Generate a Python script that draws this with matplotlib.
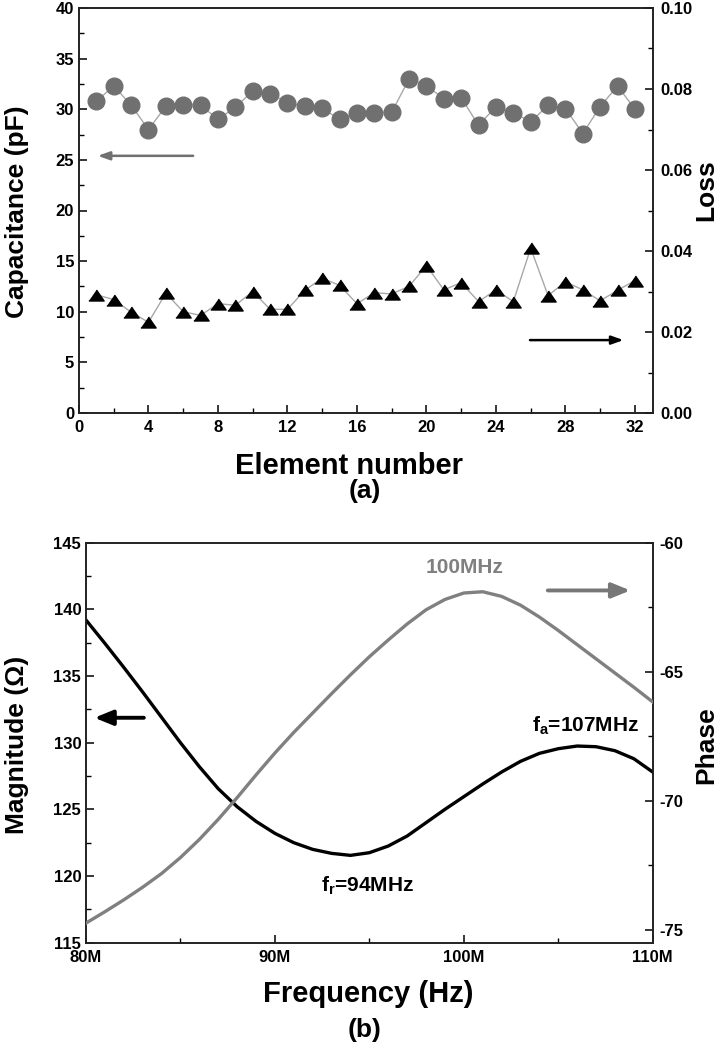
import matplotlib
matplotlib.use("Agg")
import matplotlib.pyplot as plt
from matplotlib.ticker import MultipleLocator, FuncFormatter, FormatStrFormatter

plt.rcParams['font.family'] = ['Liberation Sans', 'DejaVu Sans']
plt.rcParams['font.weight'] = 'bold'
plt.rcParams['mathtext.fontset'] = 'custom'
plt.rcParams['mathtext.rm'] = 'Liberation Sans:bold'
plt.rcParams['mathtext.it'] = 'Liberation Sans:bold'
plt.rcParams['mathtext.bf'] = 'Liberation Sans:bold'

# ---------------- data (a) ----------------
element = list(range(1, 33))
capacitance = [30.8, 32.3, 30.4, 28.0, 30.3, 30.4, 30.4, 29.0, 30.2, 31.8,
               31.55, 30.65, 30.3, 30.1, 29.0, 29.6, 29.67, 29.7, 33.0, 32.3,
               31.05, 31.15, 28.4, 30.27, 29.67, 28.75, 30.4, 30.07, 27.6, 30.27,
               32.3, 30.0]
loss = [0.0292, 0.0280, 0.0249, 0.0224, 0.0296, 0.0250, 0.0241, 0.0270, 0.0266, 0.0300,
        0.0256, 0.0256, 0.0303, 0.0333, 0.0315, 0.0270, 0.0297, 0.0294, 0.0313, 0.0364,
        0.0304, 0.0322, 0.0275, 0.0304, 0.0275, 0.0407, 0.0290, 0.0324, 0.0304, 0.0277,
        0.0303, 0.0327]

# ---------------- data (b) ----------------
freq_mhz = list(range(80, 111))
magnitude = [139.2, 137.45, 135.65, 133.8, 131.9, 130.0, 128.2, 126.55, 125.2, 124.1,
             123.2, 122.5, 122.0, 121.7, 121.55, 121.75, 122.25, 123.0, 124.0, 125.0,
             125.95, 126.9, 127.8, 128.6, 129.2, 129.55, 129.75, 129.7, 129.4, 128.8,
             127.8]
phase = [-74.74, -74.3, -73.84, -73.35, -72.82, -72.2, -71.5, -70.72, -69.88, -69.0,
         -68.15, -67.35, -66.6, -65.85, -65.12, -64.42, -63.77, -63.15, -62.6, -62.2,
         -61.95, -61.9, -62.08, -62.42, -62.88, -63.4, -63.95, -64.5, -65.05, -65.6,
         -66.17]

W, H = 722, 1050
fig = plt.figure(figsize=(W / 100, H / 100), dpi=100)

def style_axis(ax):
    for s in ax.spines.values():
        s.set_linewidth(1.2)
        s.set_color('#222222')
    ax.tick_params(direction='in', which='major', length=6, width=1.1, labelsize=12)
    ax.tick_params(direction='in', which='minor', length=3.5, width=1.0)
    for lab in ax.get_xticklabels() + ax.get_yticklabels():
        lab.set_fontweight('bold')

# ================= panel (a) =================
ax1 = fig.add_axes([79 / W, 1 - 413 / H, (653 - 79) / W, (413 - 8) / H])
ax1.plot(element, capacitance, '-', color='#a8a8a8', lw=1.0, zorder=2)
ax1.plot(element, capacitance, 'o', color='#707070', ms=12, mec='#707070', zorder=3)
ax1.set_xlim(0, 33.04)
ax1.set_ylim(0, 40)
ax1.xaxis.set_major_locator(MultipleLocator(4))
ax1.xaxis.set_minor_locator(MultipleLocator(2))
ax1.yaxis.set_major_locator(MultipleLocator(5))
ax1.yaxis.set_minor_locator(MultipleLocator(2.5))
ax1.tick_params(axis='x', pad=5)

ax1r = ax1.twinx()
tri = [(-1, -0.72), (1, -0.72), (0, 0.72)]
ax1r.plot(element, loss, '-', color='#a8a8a8', lw=1.0, zorder=2)
ax1r.plot(element, loss, linestyle='none', marker=tri, color='black', ms=11, zorder=3)
ax1r.set_ylim(0, 0.10)
ax1r.yaxis.set_major_locator(MultipleLocator(0.02))
ax1r.yaxis.set_minor_locator(MultipleLocator(0.01))
ax1r.yaxis.set_major_formatter(FormatStrFormatter('%.2f'))
style_axis(ax1)
style_axis(ax1r)
ax1r.tick_params(axis='y', pad=5)

ax1.annotate('', xy=(0.92, 25.4), xytext=(6.73, 25.4),
             arrowprops=dict(arrowstyle='-|>,head_length=0.7,head_width=0.25',
                             color='#707070', lw=1.8))
ax1.annotate('', xy=(31.5, 7.2), xytext=(25.8, 7.2),
             arrowprops=dict(arrowstyle='-|>,head_length=0.7,head_width=0.25',
                             color='black', lw=1.8))

fig.text(17 / W, 1 - 212 / H, 'Capacitance (pF)', rotation=90, ha='center', va='center',
         fontsize=19, fontweight='bold')
fig.text(706 / W, 1 - 190 / H, 'Loss', rotation=90, ha='center', va='center',
         fontsize=19, fontweight='bold')
fig.text(349 / W, 1 - 466 / H, 'Element number', ha='center', va='center',
         fontsize=21, fontweight='bold')
fig.text(365 / W, 1 - 491 / H, '(a)', ha='center', va='center',
         fontsize=19, fontweight='bold')

# ================= panel (b) =================
fhz = [f * 1e6 for f in freq_mhz]
ax2 = fig.add_axes([86 / W, 1 - 942.7 / H, (652.7 - 86) / W, 400 / H])
ax2.plot(fhz, magnitude, '-', color='black', lw=2.4, zorder=3)
ax2.set_xlim(80e6, 110e6)
ax2.set_ylim(115, 145)
ax2.xaxis.set_major_locator(MultipleLocator(10e6))
ax2.xaxis.set_minor_locator(MultipleLocator(5e6))
ax2.xaxis.set_major_formatter(FuncFormatter(lambda v, p: f"{int(round(v / 1e6))}M"))
ax2.yaxis.set_major_locator(MultipleLocator(5))
ax2.yaxis.set_minor_locator(MultipleLocator(2.5))

ax2r = ax2.twinx()
ax2r.plot(fhz, phase, '-', color='#808080', lw=2.4, zorder=3)
ax2r.set_ylim(-75.5, -60)
ax2r.yaxis.set_major_locator(MultipleLocator(5))
ax2r.yaxis.set_minor_locator(MultipleLocator(2.5))
ax2r.yaxis.set_major_formatter(FuncFormatter(lambda v, p: f"{int(round(v))}"))
style_axis(ax2)
style_axis(ax2r)
ax2.tick_params(axis='x', pad=5)
ax2r.tick_params(axis='y', pad=5)

ax2r.text(100.06e6, -60.96, '100MHz', color='#808080', fontsize=15,
          fontweight='bold', ha='center', va='center')
ax2.text(106.44e6, 131.3, r'f$_{\rm a}$=107MHz', color='black', fontsize=15,
         fontweight='bold', ha='center', va='center')
ax2.text(94.9e6, 119.3, r'f$_{\rm r}$=94MHz', color='black', fontsize=15,
         fontweight='bold', ha='center', va='center')

ax2r.annotate('', xy=(108.96e6, -61.85), xytext=(104.3e6, -61.85),
              arrowprops=dict(arrowstyle='-|>,head_length=1.1,head_width=0.45',
                              color='#777777', lw=2.8))
ax2.annotate('', xy=(80.3e6, 131.87), xytext=(83.21e6, 131.87),
             arrowprops=dict(arrowstyle='-|>,head_length=1.1,head_width=0.45',
                             color='black', lw=2.8))

fig.text(17 / W, 1 - 745 / H, 'Magnitude (Ω)', rotation=90, ha='center', va='center',
         fontsize=19, fontweight='bold')
fig.text(706 / W, 1 - 745 / H, 'Phase', rotation=90, ha='center', va='center',
         fontsize=19, fontweight='bold')
fig.text(368 / W, 1 - 994 / H, 'Frequency (Hz)', ha='center', va='center',
         fontsize=21, fontweight='bold')
fig.text(365 / W, 1 - 1030 / H, '(b)', ha='center', va='center',
         fontsize=19, fontweight='bold')

fig.savefig('out.png', dpi=100)
